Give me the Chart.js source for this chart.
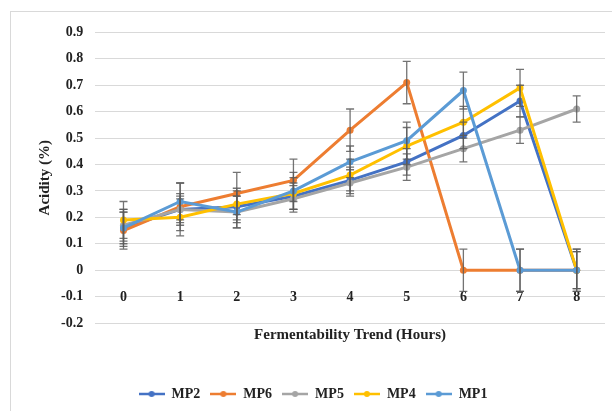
<!DOCTYPE html>
<html>
<head>
<meta charset="utf-8">
<script src="https://cdn.jsdelivr.net/npm/chart.js@4/dist/chart.umd.min.js"></script>
<style>
  body { margin: 0; background: #fff; }
  #box { position: absolute; left: 10px; top: 11px; width: 601px; height: 399px;
         border-left: 1px solid #d9d9d9; border-top: 1px solid #d9d9d9; }
</style>
</head>
<body>
<div id="box"><canvas id="chart"></canvas></div>
<script>
// Hours of fermentation
const hours = ["0", "1", "2", "3", "4", "5", "6", "7", "8"];

// Acidity (%) per sample
const mp2 = [0.16, 0.23, 0.24, 0.28, 0.34, 0.41, 0.51, 0.64, 0];
const mp6 = [0.15, 0.24, 0.29, 0.34, 0.53, 0.71, 0, 0, 0];
const mp5 = [0.17, 0.23, 0.22, 0.27, 0.33, 0.39, 0.46, 0.53, 0.61];
const mp4 = [0.19, 0.20, 0.25, 0.29, 0.36, 0.47, 0.56, 0.69, 0];
const mp1 = [0.16, 0.26, 0.22, 0.30, 0.41, 0.49, 0.68, 0, 0];

// Error bar half-lengths
const mp2Err = [0.06, 0.05, 0.06, 0.05, 0.05, 0.05, 0.05, 0.06, 0.07];
const mp6Err = [0.07, 0.09, 0.08, 0.08, 0.08, 0.08, 0.08, 0.08, 0.08];
const mp5Err = [0.06, 0.06, 0.06, 0.05, 0.05, 0.05, 0.05, 0.05, 0.05];
const mp4Err = [0.07, 0.07, 0.06, 0.06, 0.06, 0.07, 0.06, 0.07, 0.07];
const mp1Err = [0.07, 0.07, 0.06, 0.07, 0.06, 0.07, 0.07, 0.08, 0.08];

const colors = ["#4472C4", "#ED7D31", "#A5A5A5", "#FFC000", "#5B9BD5"];

Chart.defaults.font.family = "'Liberation Serif', 'Times New Roman', serif";
Chart.defaults.font.weight = "bold";
Chart.defaults.font.size = 14;
Chart.defaults.color = "#222";

// small line-with-dot icon for the legend
function legendIcon(color) {
  const c = document.createElement("canvas");
  c.width = 26; c.height = 8;
  const g = c.getContext("2d");
  g.strokeStyle = color; g.lineWidth = 2.5;
  g.beginPath(); g.moveTo(0, 4); g.lineTo(26, 4); g.stroke();
  g.fillStyle = color;
  g.beginPath(); g.arc(13, 4, 3, 0, Math.PI * 2); g.fill();
  return c;
}

// draws vertical error bars for every point
const errorBars = {
  id: "errorBars",
  afterDatasetsDraw(chart) {
    const ctx = chart.ctx;
    const y = chart.scales.y;
    ctx.save();
    ctx.strokeStyle = "rgba(90,90,90,0.85)";
    ctx.lineWidth = 1.3;
    chart.data.datasets.forEach((ds, i) => {
      const meta = chart.getDatasetMeta(i);
      meta.data.forEach((pt, j) => {
        const v = ds.data[j], e = ds.errors[j];
        const top = y.getPixelForValue(v + e);
        const bot = y.getPixelForValue(v - e);
        ctx.beginPath();
        ctx.moveTo(pt.x, top); ctx.lineTo(pt.x, bot);
        ctx.moveTo(pt.x - 4, top); ctx.lineTo(pt.x + 4, top);
        ctx.moveTo(pt.x - 4, bot); ctx.lineTo(pt.x + 4, bot);
        ctx.stroke();
      });
    });
    ctx.restore();
  }
};

function series(label, data, errors, idx) {
  return {
    label: label,
    data: data,
    errors: errors,
    borderColor: colors[idx],
    backgroundColor: colors[idx],
    borderWidth: 3,
    pointRadius: 3.5,
    pointBorderWidth: 0,
    tension: 0,
    order: 5 - idx, // later series drawn on top, like Excel
  };
}

new Chart(document.getElementById("chart"), {
  type: "line",
  data: {
    labels: hours,
    datasets: [
      series("MP2", mp2, mp2Err, 0),
      series("MP6", mp6, mp6Err, 1),
      series("MP5", mp5, mp5Err, 2),
      series("MP4", mp4, mp4Err, 3),
      series("MP1", mp1, mp1Err, 4),
    ],
  },
  options: {
    responsive: true,
    maintainAspectRatio: false,
    animation: false,
    layout: { padding: { left: 10, right: 7, top: 20, bottom: 0 } },
    scales: {
      x: {
        type: "category",
        offset: true,
        position: { y: 0 },
        grid: { display: false },
        border: { display: false },
        ticks: { padding: 11 },
      },
      x2: {
        type: "category",
        position: "bottom",
        offset: true,
        grid: { display: false, drawTicks: false },
        border: { display: false },
        ticks: { display: false },
        title: {
          display: true,
          text: "Fermentability Trend (Hours)",
          font: { size: 15 },
          padding: { top: 3, bottom: 33 },
        },
      },
      y: {
        min: -0.2,
        max: 0.9,
        grid: { color: "#d9d9d9", lineWidth: 1, drawTicks: false },
        border: { display: false },
        ticks: {
          stepSize: 0.1,
          padding: 12,
          callback: (v) => String(Math.round(v * 10) / 10),
        },
        title: {
          display: true,
          text: "Acidity (%)",
          font: { size: 15 },
          padding: { top: 15, bottom: -5 },
        },
      },
    },
    plugins: {
      legend: {
        position: "bottom",
        labels: {
          usePointStyle: true,
          pointStyleWidth: 26,
          padding: 10,
          sort: (a, b) => a.datasetIndex - b.datasetIndex,
          generateLabels: (chart) =>
            Chart.defaults.plugins.legend.labels.generateLabels(chart).map((l) => {
              l.pointStyle = legendIcon(colors[l.datasetIndex]);
              return l;
            }),
        },
      },
      tooltip: { enabled: false },
    },
  },
  plugins: [errorBars],
});
</script>
</body>
</html>
